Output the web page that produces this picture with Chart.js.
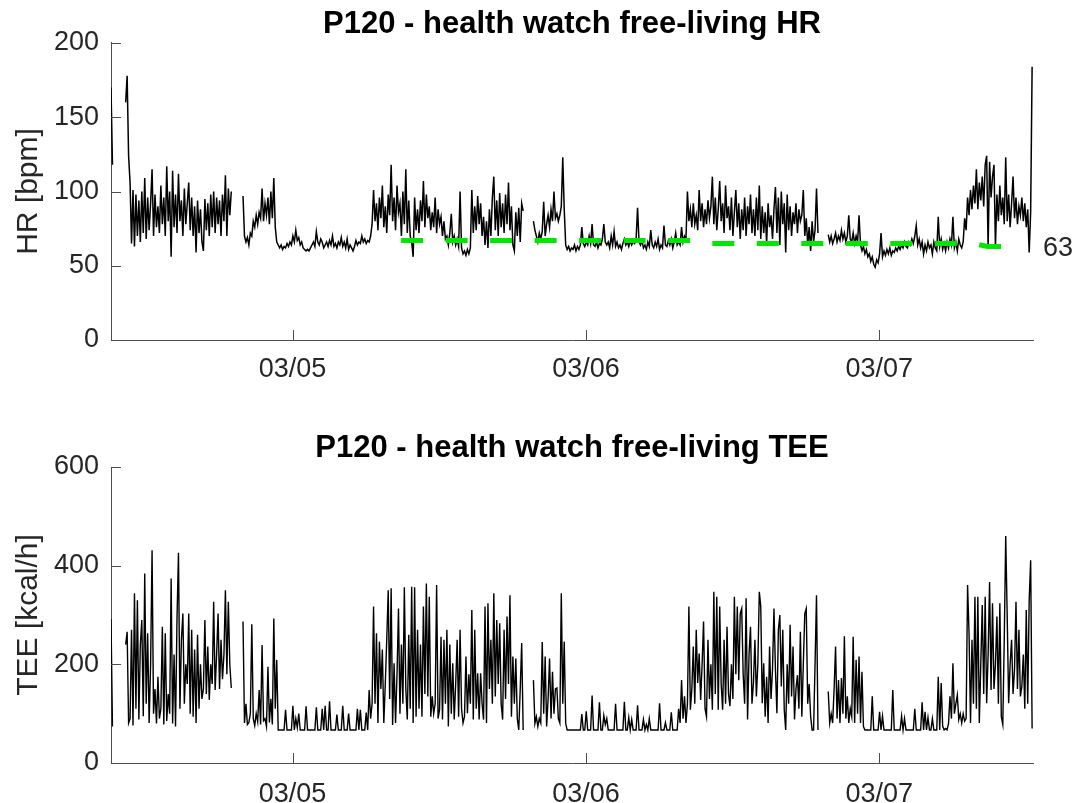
<!DOCTYPE html>
<html>
<head>
<meta charset="utf-8">
<title>P120 - health watch free-living</title>
<script src="https://cdn.jsdelivr.net/npm/chart.js@4.4.1/dist/chart.umd.min.js"></script>
<style>
  body { margin: 0; background: #fff; }
  #wrap { position: relative; width: 1077px; height: 803px; overflow: hidden; }
  canvas { position: absolute; left: 0; }
  #chartHR { top: 0; }
  #chartTEE { top: 400px; }
</style>
</head>
<body>
<div id="wrap">
  <canvas id="chartHR" width="1077" height="400"></canvas>
  <canvas id="chartTEE" width="1077" height="403"></canvas>
</div>
<script>
// x = days since 03/04 00:00, one sample every 0.005 day (~7 min)
const sampleStart = 0.381;
const sampleStep = 0.005;

const dayTicks = [1, 2, 3];
const dayLabels = ["03/05", "03/06", "03/07"];
const hrTicks = [0, 50, 100, 150, 200];
const teeTicks = [0, 200, 400, 600];

// heart rate [bpm], null = watch not worn
const hrValues = [
  170, 118, null, null, null, null, null, null, null, null,
  160, 178, 124,
  106, 65, 101, 63, 98, 70, 94, 66, 100, 72,
  109, 68, 96, 74, 92, 115, 70, 98, 76, 90,
  72, 104, 78, 96, 70, 117, 80, 100, 56, 114,
  76, 98, 72, 112, 80, 94, 70, 102, 78, 92,
  106, 74, 96, 70, 90, 59, 94, 72, 88, 66,
  60, 95, 74, 92, 70, 98, 76, 100, 72, 96,
  78, 94, 70, 98, 80, 111, 70, 102, 84, 100,
  null, null, null, null, null, null, null,
  97, 70, 66, 69, 64, 72, 70, 80, 76, 84,
  78, 86, 82, 102, 80, 92, 84, 96, 78, 100,
  82, 109, 76, 66,
  // night 03/04 -> 03/05
  64, 62, 64, 61, 63, 62, 65, 63, 66, 64,
  70, 66, 74, 67, 69, 64, 66, 62, 61, 60,
  61, 60, 62, 64, 66, 63, 73, 66, 64, 68,
  66, 62, 64, 66, 63, 67, 64, 70, 63, 65,
  62, 66, 64, 69, 63, 66, 62, 68, 61, 64,
  62, 60, 63, 67, 64, 66, 65, 70, 66, 68,
  65, 67, 66, 70, 78,
  // 03/05 day
  101, 80, 92, 74, 96, 82, 104, 76, 90, 72,
  98, 84, 118, 80, 96, 74, 104, 86, 92, 70,
  100, 78, 115, 72, 94, 70, 66, 56, 96, 74,
  88, 72, 94, 80, 107, 76, 98, 82, 90, 74,
  86, 76, 96, 72, 88, 78, 83, 70, 80, 68,
  70, 64, 72, 85, 66, 70, 64, 68, 63, 100,
  62, 58, 60, 57, 61, 58, 62, 101, 72, 90,
  74, 97, 78, 92, 70, 83, 64, 80, 62, 88,
  70, 96, 110, 74, 94, 70, 99, 76, 92, 72,
  98, 78, 106, 74, 90, 64, 60, 86, 70, 89,
  66, 92, 87,
  null, null, null, null, null, null,
  80, 74, 70, 66, 72, 68, 73, 93, 70, 78,
  84, 76, 88, 80, 100, 82, 85, 80, 84, 90,
  123, 88, 64, 61, 63, 60, 62, 61, 64, 60,
  // night 03/05 -> 03/06
  63, 61, 64, 76, 65, 63, 66, 64, 70, 65,
  78, 64, 63, 66, 62, 65, 64, 68, 78, 66,
  64, 66, 62, 70, 64, 73, 63, 66, 62, 64,
  61, 65, 68, 64, 66, 63, 67, 64, 66, 65,
  68, 89, 66, 64, 67, 62, 64, 61, 66, 63,
  74, 64, 62, 66, 63, 68, 61, 64, 62, 77,
  64, 63, 67, 64, 68, 62, 66, 72, 64, 66,
  64, 76, 66, 70, 68, 100, 80, 88, 76, 92,
  // 03/06 day
  78, 84, 74, 101, 80, 92, 76, 88, 78, 94,
  82, 90, 110, 78, 96, 74, 88, 107, 80, 92,
  72, 104, 82, 90, 74, 96, 70, 86, 101, 76,
  92, 68, 88, 74, 96, 70, 90, 78, 98, 72,
  88, 70, 96, 74, 104, 68, 90, 72, 86, 65,
  92, 76, 84, 68, 88, 103, 72, 96, 64, 100,
  78, 92, 59, 98, 74, 90, 70, 86, 78, 92,
  72, 88, 80, 84, 101, 70, 82, 64, 76, 60,
  80, 66, 74, 102, 72,
  null, null, null, null, null, null,
  // night 03/06 -> 03/07
  71, 66, 70, 65, 68, 72, 66, 70, 67, 74,
  68, 72, 66, 70, 84, 68, 66, 72, 65, 70,
  66, 84, 64, 60, 63, 58, 61, 56, 58, 53,
  56, 51, 49, 54, 52, 58, 72, 56, 60, 57,
  61, 58, 62, 57, 60, 59, 62, 60, 63, 61,
  64, 62, 66, 63, 62, 66, 64, 68, 65, 70,
  77, 64, 68, 62, 66, 58, 64, 60, 66, 62,
  64, 58, 66, 62, 60, 83, 63, 68, 61, 65,
  60, 66, 62, 68, 64, 83, 62, 66, 60, 68,
  // 03/07 morning
  64, 62, 66, 82, 74, 96, 84, 101, 88, 104,
  92, 115, 88, 106, 94, 110, 90, 118, 124, 62,
  120, 96, 110, 118, 63, 98, 80, 104, 84, 96,
  78, 123, 80, 98, 76, 92, 110, 82, 96, 78,
  90, 84, 96, 80, 92, 76, 88, 59, 86, 184
];

// total energy expenditure [kcal/h]
const teeValues = [
  292, 74, null, null, null, null, null, null, null, null,
  240, 266, 81,
  90, 270, 76, 344, 110, 330, 88, 240, 290, 95,
  384, 120, 263, 81, 200, 431, 100, 150, 80, 175,
  90, 110, 276, 78, 263, 85, 140, 100, 374, 80,
  220, 74, 293, 426, 110, 250, 303, 120, 200, 160,
  303, 100, 270, 94, 230, 81, 260, 110, 200, 130,
  150, 290, 140, 236, 128, 200, 160, 327, 148, 220,
  303, 150, 250, 170, 220, 350, 180, 327, 200, 152,
  null, null, null, null, null, null, null,
  287, 81, 120, 78, 82, 100, 281, 90, 76, 100,
  84, 148, 78, 239, 86, 90, 74, 195, 82, 130,
  78, 293, 110, 209,
  // night 03/04 -> 03/05
  67, 67, 67, 67, 67, 108, 67, 67, 67, 67,
  116, 67, 90, 72, 100, 67, 67, 67, 67, 115,
  67, 67, 67, 67, 67, 67, 113, 67, 67, 67,
  110, 67, 116, 67, 67, 125, 67, 67, 67, 67,
  98, 67, 67, 67, 116, 67, 67, 67, 100, 67,
  67, 67, 67, 67, 110, 67, 108, 67, 67, 67,
  102, 67, 148, 90, 120,
  // 03/05 day
  317, 120, 263, 81, 246, 150, 230, 81, 160, 250,
  350, 130, 354, 77, 202, 81, 180, 313, 100, 240,
  120, 356, 150, 88, 260, 110, 357, 81, 356, 94,
  270, 110, 240, 94, 317, 140, 364, 135, 337, 94,
  135, 100, 120, 361, 90, 108, 256, 88, 250, 120,
  270, 74, 240, 100, 202, 88, 160, 250, 94, 270,
  110, 81, 94, 216, 101, 180, 120, 310, 88, 270,
  110, 182, 88, 182, 120, 88, 317, 81, 324, 150,
  250, 120, 344, 135, 290, 160, 283, 120, 88, 270,
  130, 297, 160, 340, 94, 216, 120, 212, 90, 67,
  150, 243, 67,
  null, null, null, null, null, null,
  168, 80, 94, 74, 90, 81, 245, 100, 216, 74,
  130, 212, 90, 185, 100, 150, 152, 90, 81, 344,
  120, 246, 80, 67, 67, 67, 67, 67, 67, 67,
  // night 03/05 -> 03/06
  67, 67, 67, 99, 67, 67, 105, 67, 67, 67,
  137, 67, 67, 67, 67, 123, 67, 67, 96, 78,
  90, 67, 67, 67, 67, 67, 120, 67, 67, 67,
  67, 67, 124, 67, 67, 92, 67, 88, 67, 67,
  67, 117, 67, 67, 67, 88, 67, 78, 67, 90,
  67, 67, 67, 67, 67, 67, 121, 67, 67, 67,
  82, 67, 67, 67, 103, 67, 67, 67, 67, 110,
  81, 168, 90, 135, 81, 120, 317, 108, 150, 236,
  // 03/06 day
  120, 270, 162, 222, 128, 200, 287, 110, 94, 250,
  130, 200, 108, 347, 140, 337, 108, 317, 160, 108,
  250, 120, 276, 140, 115, 200, 130, 337, 180, 317,
  168, 303, 313, 180, 120, 334, 88, 220, 276, 120,
  162, 250, 135, 200, 347, 317, 121, 202, 94, 175,
  81, 236, 130, 190, 313, 189, 101, 270, 300, 155,
  270, 108, 67, 200, 120, 280, 135, 236, 88, 150,
  178, 110, 266, 94, 200, 303, 313, 120, 160, 94,
  67, 67, 200, 340, 67,
  null, null, null, null, null, null,
  // night 03/06 -> 03/07
  145, 81, 100, 81, 150, 236, 90, 168, 81, 172,
  100, 257, 90, 135, 81, 110, 94, 256, 81, 209,
  100, 216, 81, 185, 74, 67, 67, 67, 67, 67,
  135, 67, 67, 67, 67, 104, 67, 95, 67, 67,
  67, 67, 67, 67, 148, 67, 67, 67, 67, 67,
  95, 67, 90, 67, 67, 67, 67, 67, 67, 110,
  67, 67, 67, 67, 123, 67, 104, 67, 92, 67,
  67, 90, 67, 67, 67, 175, 67, 162, 75, 67,
  70, 67, 80, 135, 90, 202, 100, 120, 138, 88,
  // 03/07 morning
  100, 81, 100, 85, 90, 361, 263, 81, 250, 120,
  337, 110, 337, 81, 200, 320, 140, 337, 121, 220,
  367, 148, 324, 150, 200, 297, 120, 324, 94, 78,
  250, 460, 300, 121, 200, 250, 140, 190, 327, 150,
  270, 135, 155, 220, 110, 310, 120, 330, 411, 70
];

// resting HR trend (green dashed), every 0.05 day
const restStart = 1.37;
const restStep = 0.05;
const restValues = [
  67, 67, 67, 67, 67, 67, 67, 67, 67, 67, 67,
  67, 67, 67, 67, 67, 67, 67, 67, 67, 67,
  65, 65, 65, 65, 65, 65, 65, 65, 65, 65,
  65, 65, 65, 65, 65, 65, 65, 65, 65,
  63, 63
];

const xMin = 0.381;
const xMax = 3.524;
const axisColor = "#4d4d4d";
const textColor = "#262626";
const fontFamily = '"Liberation Sans", Arial, Helvetica, sans-serif';

Chart.defaults.font.family = fontFamily;

function toPoints(values, start, step) {
  return values.map((v, i) => ({ x: start + i * step, y: v }));
}

// matlab style ticks pointing into the axes
const inwardTicks = {
  id: "inwardTicks",
  afterDatasetsDraw(chart) {
    const { ctx, chartArea, scales } = chart;
    ctx.save();
    ctx.strokeStyle = axisColor;
    ctx.lineWidth = 1;
    ctx.beginPath();
    scales.x.ticks.forEach((t) => {
      const px = Math.round(scales.x.getPixelForValue(t.value)) + 0.5;
      ctx.moveTo(px, chartArea.bottom);
      ctx.lineTo(px, chartArea.bottom - 10);
    });
    scales.y.ticks.forEach((t) => {
      const py = Math.round(scales.y.getPixelForValue(t.value)) + 0.5;
      ctx.moveTo(chartArea.left, py);
      ctx.lineTo(chartArea.left + 10, py);
    });
    ctx.stroke();
    ctx.restore();
  },
};

// last resting HR value written right of the axes
const restLabel = {
  id: "restLabel",
  afterDraw(chart) {
    const { ctx, chartArea, scales } = chart;
    const last = restValues[restValues.length - 1];
    ctx.save();
    ctx.font = "27px " + fontFamily;
    ctx.fillStyle = textColor;
    ctx.textBaseline = "middle";
    ctx.fillText(String(last), chartArea.right + 10, scales.y.getPixelForValue(last) + 2);
    ctx.restore();
  },
};

function panelOptions(titleText, titleTop, yTitle, yTicks, xHeight, xPad) {
  return {
    responsive: false,
    animation: false,
    events: [],
    layout: { padding: { left: 0, right: 44, top: 0, bottom: 0 } },
    plugins: {
      legend: { display: false },
      tooltip: { enabled: false },
      title: {
        display: true,
        text: titleText,
        fullSize: false,
        color: "#000",
        font: { size: 31, weight: "bold", lineHeight: 1.2 },
        padding: { top: titleTop, bottom: 0 },
      },
    },
    scales: {
      x: {
        type: "linear",
        min: xMin,
        max: xMax,
        grid: { display: false, drawTicks: false },
        border: { display: true, color: axisColor, width: 1 },
        afterBuildTicks: (s) => {
          s.ticks = dayTicks.map((v) => ({ value: v }));
        },
        afterFit: (s) => {
          s.height = xHeight;
        },
        ticks: {
          color: textColor,
          font: { size: 27 },
          padding: xPad,
          maxRotation: 0,
          autoSkip: false,
          callback: (v) => dayLabels[dayTicks.indexOf(v)],
        },
      },
      y: {
        min: yTicks[0],
        max: yTicks[yTicks.length - 1],
        grid: { display: false, drawTicks: false },
        border: { display: true, color: axisColor, width: 1 },
        afterBuildTicks: (s) => {
          s.ticks = yTicks.map((v) => ({ value: v }));
        },
        afterFit: (s) => {
          s.width = 111;
        },
        ticks: { color: textColor, font: { size: 27 }, padding: 12 },
        title: {
          display: true,
          text: yTitle,
          color: textColor,
          font: { size: 30, lineHeight: 1.2 },
          padding: { top: 11, bottom: 0 },
        },
      },
    },
  };
}

new Chart(document.getElementById("chartHR").getContext("2d"), {
  type: "line",
  data: {
    datasets: [
      {
        label: "resting HR",
        data: toPoints(restValues, restStart, restStep),
        borderColor: "#00e600",
        borderWidth: 5,
        borderDash: [22, 22.5],
        pointRadius: 0,
      },
      {
        label: "HR",
        data: toPoints(hrValues, sampleStart, sampleStep),
        borderColor: "#000",
        borderWidth: 1.5,
        pointRadius: 0,
        spanGaps: false,
      },
    ],
  },
  options: panelOptions("P120 - health watch free-living HR", 5.8, "HR [bpm]", hrTicks, 60, 13),
  plugins: [inwardTicks, restLabel],
});

new Chart(document.getElementById("chartTEE").getContext("2d"), {
  type: "line",
  data: {
    datasets: [
      {
        label: "TEE",
        data: toPoints(teeValues, sampleStart, sampleStep),
        borderColor: "#000",
        borderWidth: 1.4,
        pointRadius: 0,
        spanGaps: false,
      },
    ],
  },
  options: panelOptions("P120 - health watch free-living TEE", 29.8, "TEE [kcal/h]", teeTicks, 40, 15),
  plugins: [inwardTicks],
});
</script>
</body>
</html>
